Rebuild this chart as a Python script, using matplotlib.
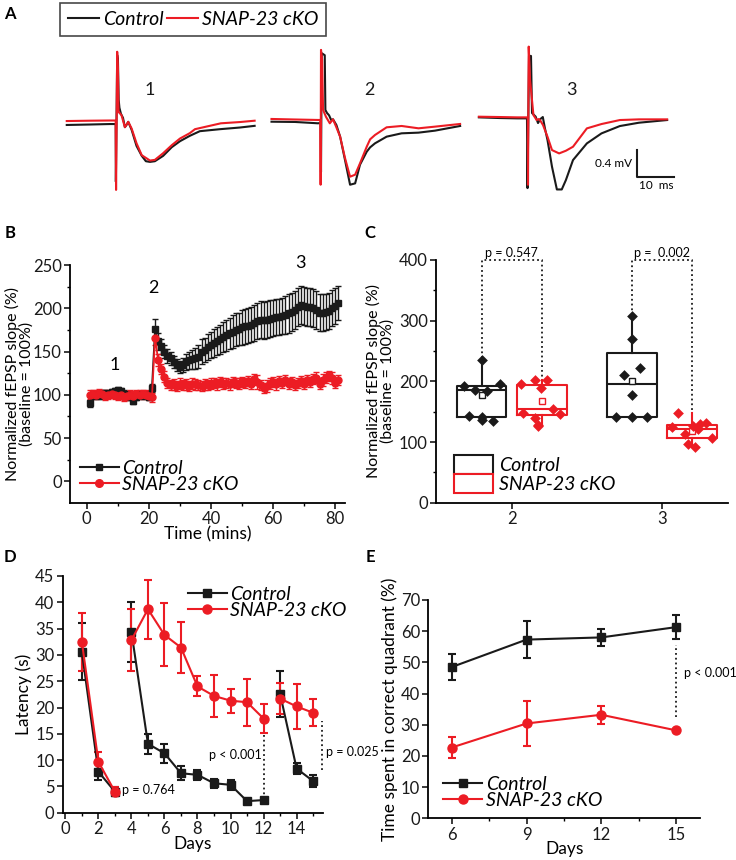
import matplotlib
matplotlib.use("Agg")
import matplotlib.pyplot as plt
from matplotlib.patches import Patch
from matplotlib.lines import Line2D
import numpy as np

plt.rcParams['font.family'] = ['Lato', 'DejaVu Sans']
plt.rcParams['axes.linewidth'] = 1.3

BLACK = '#1a1a1a'
RED = '#ec1c24'

# ---------------- Panel A: example traces (ms, mV relative to baseline) ----------------
t1_ctl = [-13.3, -7.1, -1.8, -0.25, -0.2, 0.15, 0.35, 0.55, 0.75, 1.15, 1.7, 2.2, 2.6, 3.1, 4.0, 5.3, 6.7, 7.8, 8.9, 10.2, 12.4, 14.7, 16.9, 19.5, 22.2, 27.6, 32.9, 36.8]
v1_ctl = [-0.007, 0.0, 0.007, 0.007, -0.857, 1.04, 0.97, 0.37, 0.25, 0.16, 0.10, -0.04, -0.01, 0.04, -0.08, -0.32, -0.47, -0.55, -0.56, -0.55, -0.47, -0.34, -0.25, -0.17, -0.10, -0.07, -0.045, -0.02]
t1_cko = [-13.3, -7.1, -1.8, -0.25, -0.15, 0.15, 0.35, 0.5, 1.3, 2.2, 3.1, 4.0, 5.3, 6.7, 8.9, 10.2, 12.4, 14.7, 16.9, 19.5, 20.9, 27.8, 32.9, 36.8]
v1_cko = [0.052, 0.057, 0.06, 0.06, -0.98, 1.09, 0.82, 0.19, 0.14, -0.04, 0.04, -0.06, -0.28, -0.46, -0.54, -0.53, -0.43, -0.31, -0.21, -0.13, -0.07, 0.018, 0.037, 0.057]

t2_ctl = [-13.3, -7.0, -0.9, -0.2, -0.1, 0.1, 0.9, 1.07, 1.5, 2.05, 2.6, 3.1, 4.0, 5.0, 6.3, 7.65, 9.0, 10.3, 12.1, 13.0, 14.3, 17.4, 21.4, 25.9, 30.3, 37.0]
v2_ctl = [0.004, 0.0, -0.02, -0.015, -0.75, 1.03, 1.0, 0.18, 0.135, 0.10, 0.03, 0.04, -0.045, -0.22, -0.57, -0.94, -0.92, -0.64, -0.445, -0.38, -0.32, -0.22, -0.17, -0.16, -0.13, -0.06]
t2_cko = [-13.3, -7.0, -0.9, -0.25, -0.2, -0.1, 0.2, 0.45, 1.25, 2.25, 3.1, 4.0, 5.0, 6.3, 7.65, 9.0, 10.3, 12.1, 13.0, 14.3, 17.4, 21.4, 25.9, 30.3, 37.0]
v2_cko = [0.045, 0.037, 0.03, 0.03, -0.94, 1.08, 0.93, 0.18, 0.075, -0.02, 0.04, -0.08, -0.22, -0.54, -0.82, -0.79, -0.62, -0.37, -0.26, -0.195, -0.08, -0.06, -0.095, -0.07, -0.03]

t3_ctl = [-13.1, -7.5, -2.9, -0.27, -0.13, 0.27, 0.8, 1.07, 2.05, 2.67, 3.3, 3.95, 4.5, 5.2, 6.4, 7.7, 9.0, 10.1, 12.0, 15.7, 19.6, 24.5, 29.6, 37.1]
v3_ctl = [0.01, 0.0, -0.005, -0.005, -1.05, 0.93, 0.93, 0.075, 0.02, -0.075, -0.015, 0.015, -0.15, -0.33, -0.73, -1.07, -1.07, -0.93, -0.63, -0.38, -0.23, -0.12, -0.07, -0.03]
t3_cko = [-13.1, -7.5, -2.9, -0.05, 0.0, 0.19, 0.55, 1.45, 2.3, 2.9, 3.3, 4.0, 5.2, 6.4, 8.3, 10.1, 12.0, 15.7, 19.6, 24.5, 29.6, 37.1]
v3_cko = [0.02, 0.015, 0.01, 0.01, -1.0, 1.07, 0.57, 0.045, -0.03, -0.015, -0.04, -0.105, -0.28, -0.48, -0.53, -0.49, -0.43, -0.155, -0.09, -0.03, -0.02, -0.02]

trace_labels = ['1', '2', '3']

# ---------------- Panel B: LTP time course ----------------
time_b = list(range(1, 82))
ctl_b = [90, 99, 100, 99, 101, 102, 101, 103, 104, 105, 104, 101, 100, 98, 93, 98, 100, 99, 100, 98,
         108, 176, 162, 156, 150, 145, 142, 138, 134, 132, 134, 138, 140, 141, 142, 144, 150, 152, 155, 158,
         160, 162, 164, 167, 169, 171, 173, 175, 176, 178, 179, 180, 181, 183, 185, 187, 186, 187, 188, 189,
         190, 190, 191, 192, 194, 196, 198, 201, 204, 203, 202, 201, 200, 198, 195, 195, 196, 197, 200, 203, 206]
ctl_b_err = [4, 4, 4, 4, 4, 4, 4, 4, 4, 4, 4, 4, 4, 4, 4, 4, 4, 4, 4, 4,
             5, 12, 10, 9, 8, 8, 8, 7, 7, 7, 8, 9, 10, 11, 12, 13, 14, 14, 15, 15,
             16, 16, 17, 17, 18, 18, 19, 19, 19, 20, 20, 20, 20, 21, 21, 21, 21, 21, 21, 21,
             21, 21, 21, 22, 22, 22, 22, 22, 22, 22, 22, 22, 22, 22, 21, 21, 21, 21, 21, 21, 20]
cko_b = [100, 101, 100, 102, 101, 99, 100, 101, 100, 99, 100, 98, 99, 100, 99, 101, 100, 101, 100, 99,
         97, 166, 140, 130, 121, 114, 111, 112, 110, 113, 111, 112, 110, 113, 112, 111, 110, 112, 111, 113,
         114, 112, 115, 113, 114, 112, 115, 114, 113, 115, 114, 116, 113, 118, 115, 111, 108, 110, 113, 115,
         112, 116, 114, 117, 113, 115, 111, 114, 116, 113, 117, 115, 118, 120, 113, 117, 120, 122, 119, 114, 117]
cko_b_err = [5] * 21 + [8, 7, 6, 6, 6, 6, 6, 6, 6, 6, 6, 6, 6, 6, 6, 6, 6, 6, 6, 6,
             6, 6, 6, 6, 6, 6, 6, 6, 6, 6, 6, 6, 6, 8, 6, 6, 7, 6, 6, 6,
             6, 6, 6, 6, 6, 6, 6, 6, 6, 6, 6, 6, 6, 6, 7, 6, 6, 7, 6, 6]

# ---------------- Panel C: box plots ----------------
c_categories = ['2', '3']
c_ctl2 = [235, 196, 192, 186, 184, 143, 142, 136, 135]
c_cko2 = [203, 203, 195, 189, 155, 148, 147, 140, 128, 126]
c_ctl3 = [307, 270, 222, 211, 178, 142, 142, 142]
c_cko3 = [148, 132, 130, 126, 124, 122, 114, 106, 97, 92]
# box statistics: q1, median, q3, whisker low, whisker high, mean
c_stats_ctl2 = [142, 185, 193, 135, 235, 177]
c_stats_cko2 = [145, 155, 194, 126, 203, 167]
c_stats_ctl3 = [141, 195, 247, 141, 307, 201]
c_stats_cko3 = [107, 122, 128, 92, 148, 118]
c_pvals = ['p = 0.547', 'p =  0.002']

# ---------------- Panel D: latency ----------------
days_d = list(range(1, 16))
ctl_d = [30.6, 7.8, 4.0, 34.4, 13.1, 11.3, 7.5, 7.2, 5.6, 5.3, 2.2, 2.4, 22.6, 8.4, 6.0]
ctl_d_err = [5.4, 1.5, 0.8, 5.7, 1.9, 1.8, 1.3, 1.0, 0.9, 0.9, 0.2, 0.2, 4.4, 1.1, 1.2]
cko_d = [32.5, 9.7, 4.0, 32.8, 38.7, 33.8, 31.4, 24.0, 22.2, 21.3, 21.0, 17.9, 21.7, 20.2, 19.0]
cko_d_err = [5.5, 1.9, 0.8, 5.9, 5.6, 6.0, 4.8, 1.9, 4.0, 2.3, 4.5, 2.8, 2.9, 4.3, 2.6]
d_pvals = ['p = 0.764', 'p < 0.001', 'p = 0.025']

# ---------------- Panel E: probe test ----------------
days_e = [6, 9, 12, 15]
ctl_e = [48.5, 57.3, 58.0, 61.3]
ctl_e_err = [4.1, 6.0, 2.8, 3.9]
cko_e = [22.7, 30.4, 33.2, 28.2]
cko_e_err = [3.4, 7.3, 2.9, 0.5]
e_pval = 'p < 0.001'

W, H = 736, 860
TICK_FS = 12
LAB_FS = 12.5
LEG_FS = 14
P_FS = 9
fig = plt.figure(figsize=(W / 100, H / 100), dpi=100)


def rect(l, t, r, b):
    return [l / W, 1 - b / H, (r - l) / W, (b - t) / H]


def style_axes(ax):
    for s in ['top', 'right']:
        ax.spines[s].set_visible(False)
    ax.tick_params(direction='out', length=4, width=1.2, labelsize=TICK_FS, colors=BLACK, pad=2)
    ax.tick_params(which='minor', direction='out', length=2.5, width=1.0)


def series_handles(msq=5.5, mci=6.5):
    return [Line2D([], [], color=BLACK, marker='s', ms=msq, lw=1.5),
            Line2D([], [], color=RED, marker='o', ms=mci, lw=1.5)]


LEG_LABELS = ['Control', 'SNAP-23 cKO']
FEPSP_LABEL = 'Normalized fEPSP slope (%)\n(baseline = 100%)'

# ----- Panel A -----
axA = fig.add_axes(rect(60, 40, 700, 200))
axA.set_xlim(0, 640 / 3.75)
axA.set_ylim(0, 160 / 66.75)
axA.axis('off')
trace_x0 = [15.1, 69.7, 124.8]
trace_y0 = [1.131, 1.169, 1.228]
ctl_traces = [(t1_ctl, v1_ctl), (t2_ctl, v2_ctl), (t3_ctl, v3_ctl)]
cko_traces = [(t1_cko, v1_cko), (t2_cko, v2_cko), (t3_cko, v3_cko)]
for i in range(3):
    tc, vc = ctl_traces[i]
    tk, vk = cko_traces[i]
    axA.plot(np.array(tc) + trace_x0[i], np.array(vc) + trace_y0[i], color=BLACK, lw=1.5)
    axA.plot(np.array(tk) + trace_x0[i], np.array(vk) + trace_y0[i], color=RED, lw=1.5)
label_x = [24.0, 82.4, 136.3]
for i, lab in enumerate(trace_labels):
    axA.text(label_x[i], 1.648, lab, fontsize=13, ha='center', va='center', color=BLACK)
# scale bar
axA.plot([153.8, 153.8, 163.8], [0.749, 0.349, 0.349], color=BLACK, lw=1.5)
axA.text(152.5, 0.54, '0.4 mV', fontsize=8.5, ha='right', va='center')
axA.text(158.9, 0.22, '10  ms', fontsize=8.5, ha='center', va='center')
legA = fig.legend(handles=[Line2D([], [], color=BLACK, lw=1.5), Line2D([], [], color=RED, lw=1.5)],
                  labels=LEG_LABELS, ncol=2, loc='center left',
                  bbox_to_anchor=(60 / W, 1 - 19.5 / H), frameon=True, fancybox=False,
                  prop={'style': 'italic', 'size': LEG_FS}, handlelength=1.6, handletextpad=0.2,
                  columnspacing=0.2, borderpad=0.4, borderaxespad=0)
legA.get_frame().set_edgecolor(BLACK)
legA.get_frame().set_linewidth(1.2)

# ----- Panel B -----
axB = fig.add_axes(rect(70, 265, 345, 503))
style_axes(axB)
axB.errorbar(time_b, ctl_b, yerr=ctl_b_err, color=BLACK, marker='s', ms=4.5, lw=1.3,
             elinewidth=1.0, capsize=2.5, capthick=1.0)
axB.errorbar(time_b, cko_b, yerr=cko_b_err, color=RED, marker='o', ms=5, lw=1.3,
             elinewidth=1.0, capsize=2.5, capthick=1.0)
axB.set_xlim(-5.4, 83.2)
axB.set_ylim(-25, 250)
axB.set_xticks([0, 20, 40, 60, 80])
axB.set_xticks([10, 30, 50, 70], minor=True)
axB.set_yticks([0, 50, 100, 150, 200, 250])
axB.set_yticks([25, 75, 125, 175, 225], minor=True)
axB.set_xlabel('Time (mins)', fontsize=LAB_FS, labelpad=-1)
axB.set_ylabel(FEPSP_LABEL, fontsize=11.5, linespacing=0.95)
axB.yaxis.set_label_coords(-0.132, 0.5)
axB.text(9.1, 134.6, '1', fontsize=13, ha='center', va='center')
axB.text(21.5, 223, '2', fontsize=13, ha='center', va='center')
axB.text(68.7, 252.7, '3', fontsize=13, ha='center', va='center', clip_on=False)
axB.legend(handles=series_handles(4.5, 5.5), labels=LEG_LABELS, loc='lower left',
           bbox_to_anchor=(0.0, 0.0), frameon=False,
           prop={'style': 'italic', 'size': LEG_FS}, handlelength=2.0, handletextpad=0.2,
           labelspacing=-0.05, borderaxespad=0.1)

# ----- Panel C -----
axC = fig.add_axes(rect(436, 260, 728, 502.7))
style_axes(axC)
positions = [-0.2, 0.2, 0.8, 1.2]
stats_all = [c_stats_ctl2, c_stats_cko2, c_stats_ctl3, c_stats_cko3]
colors = [BLACK, RED, BLACK, RED]
for i, s in enumerate(stats_all):
    col = colors[i]
    st = dict(q1=s[0], med=s[1], q3=s[2], whislo=s[3], whishi=s[4], mean=s[5], fliers=[])
    axC.bxp([st], positions=[positions[i]], widths=0.33, showmeans=True, showcaps=False,
            boxprops=dict(color=col, lw=1.5), medianprops=dict(color=col, lw=1.5),
            whiskerprops=dict(color=col, lw=1.5),
            meanprops=dict(marker='s', markerfacecolor='white', markeredgecolor=col, markersize=4,
                           markeredgewidth=1.0))
pts_all = [c_ctl2, c_cko2, c_ctl3, c_cko3]
jitter = [[0.0, 0.12, -0.12, -0.044, 0.038, -0.082, 0.0, 0.0, 0.078],
          [-0.045, 0.033, -0.138, -0.005, 0.076, -0.122, 0.12, -0.045, -0.023, -0.023],
          [0.0, 0.0, 0.054, -0.051, 0.0, -0.106, 0.0, 0.102],
          [-0.091, 0.093, 0.053, 0.005, -0.136, 0.042, -0.046, 0.13, -0.025, 0.02]]
for i in range(4):
    xs = np.array(jitter[i]) + positions[i]
    axC.scatter(xs, pts_all[i], marker='D', s=30, color=colors[i], zorder=5, linewidths=0)
axC.set_xlim(-0.504, 1.439)
axC.set_ylim(0, 400)
axC.set_xticks([0, 1])
axC.set_xticklabels(c_categories)
axC.set_yticks([0, 100, 200, 300, 400])
axC.set_yticks([50, 150, 250, 350], minor=True)
axC.set_ylabel(FEPSP_LABEL, fontsize=11.5, linespacing=0.95)
axC.yaxis.set_label_coords(-0.142, 0.5)
axC.plot([-0.2, -0.2, 0.2, 0.2], [238, 400, 400, 206], ls=':', color=BLACK, lw=1.3, clip_on=False)
axC.plot([0.8, 0.8, 1.2, 1.2], [310, 400, 400, 151], ls=':', color=BLACK, lw=1.3, clip_on=False)
axC.text(0.0, 401, c_pvals[0], fontsize=P_FS, ha='center', va='bottom')
axC.text(1.0, 401, c_pvals[1], fontsize=P_FS, ha='center', va='bottom')
axC.legend(handles=[Patch(facecolor='white', edgecolor=BLACK, lw=1.5),
                    Patch(facecolor='white', edgecolor=RED, lw=1.5)],
           labels=LEG_LABELS, loc='lower left', bbox_to_anchor=(0.03, 0.0),
           frameon=False, prop={'style': 'italic', 'size': LEG_FS}, handlelength=2.0,
           handleheight=1.1, handletextpad=0.3, labelspacing=0.0, borderaxespad=0.1)

# ----- Panel D -----
axD = fig.add_axes(rect(62.7, 576, 322.7, 812.7))
style_axes(axD)
segments = [(0, 3), (3, 12), (12, 15)]
for a, b in segments:
    axD.errorbar(days_d[a:b], ctl_d[a:b], yerr=ctl_d_err[a:b], color=BLACK, marker='s', ms=5.5,
                 lw=1.5, elinewidth=1.5, capsize=3, capthick=1.5)
for a, b in segments:
    axD.errorbar(days_d[a:b], cko_d[a:b], yerr=cko_d_err[a:b], color=RED, marker='o', ms=6.5,
                 lw=1.5, elinewidth=1.5, capsize=3, capthick=1.5)
axD.set_xlim(-0.16, 15.58)
axD.set_ylim(0, 45)
axD.set_xticks(range(0, 15, 2))
axD.set_xticks(range(1, 16, 2), minor=True)
axD.set_yticks(range(0, 46, 5))
axD.set_xlabel('Days', fontsize=LAB_FS, labelpad=-1)
axD.set_ylabel('Latency (s)', fontsize=LAB_FS, labelpad=2)
axD.plot([12, 12], [2.6, 15.1], ls=':', color=BLACK, lw=1.3)
axD.plot([15.56, 15.56], [8.1, 17.4], ls=':', color=BLACK, lw=1.3, clip_on=False)
axD.text(3.41, 4.3, d_pvals[0], fontsize=P_FS, ha='left', va='center')
axD.text(11.89, 11.0, d_pvals[1], fontsize=P_FS, ha='right', va='center')
axD.text(15.8, 11.5, d_pvals[2], fontsize=P_FS, ha='left', va='center', clip_on=False)
axD.legend(handles=series_handles(), labels=LEG_LABELS, loc='upper right', bbox_to_anchor=(1.13, 1.0),
           frameon=False, prop={'style': 'italic', 'size': LEG_FS}, handlelength=2.0,
           handletextpad=0.2, labelspacing=-0.05, borderaxespad=0.1)

# ----- Panel E -----
axE = fig.add_axes(rect(428.3, 600, 700, 818.3))
style_axes(axE)
axE.errorbar(days_e, ctl_e, yerr=ctl_e_err, color=BLACK, marker='s', ms=5.5, lw=1.5,
             elinewidth=1.5, capsize=3, capthick=1.5)
axE.errorbar(days_e, cko_e, yerr=cko_e_err, color=RED, marker='o', ms=6.5, lw=1.5,
             elinewidth=1.5, capsize=3, capthick=1.5)
axE.set_xlim(5.06, 15.96)
axE.set_ylim(0, 70)
axE.set_xticks(days_e)
axE.set_xticks([7.5, 10.5, 13.5], minor=True)
axE.set_yticks(range(0, 71, 10))
axE.set_xlabel('Days', fontsize=LAB_FS, labelpad=-1)
axE.set_ylabel('Time spent in correct quadrant (%)', fontsize=LAB_FS, labelpad=2)
axE.plot([15, 15], [32.6, 55.6], ls=':', color=BLACK, lw=1.3)
axE.text(15.3, 46.6, e_pval, fontsize=P_FS, ha='left', va='center', clip_on=False)
axE.legend(handles=series_handles(), labels=LEG_LABELS, loc='lower left', bbox_to_anchor=(0.02, 0.0),
           frameon=False, prop={'style': 'italic', 'size': LEG_FS}, handlelength=2.0,
           handletextpad=0.2, labelspacing=-0.05, borderaxespad=0.1)

# panel letters
for lab, x, y in [('A', 10, 14), ('B', 10, 233), ('C', 370, 233), ('D', 10, 557), ('E', 370, 557)]:
    fig.text(x / W, 1 - y / H, lab, fontsize=12, fontweight='bold', ha='center', va='center')

fig.savefig('out.png', dpi=100)
